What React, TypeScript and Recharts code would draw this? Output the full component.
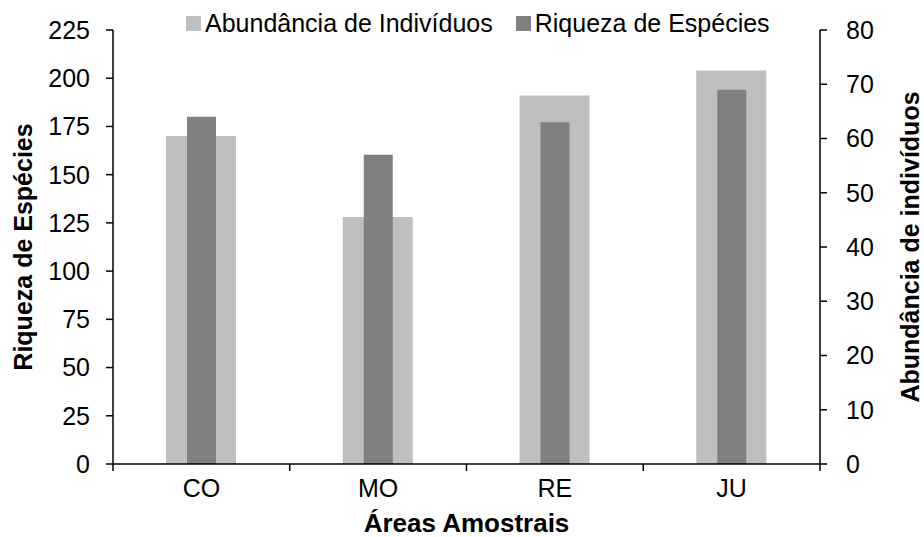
import { BarChart, Bar, XAxis, YAxis, Legend, Text } from 'recharts';

const categories = ['CO', 'MO', 'RE', 'JU'];
const abundancia = [170, 128, 191, 204];
const riqueza = [64, 57, 63, 69];
const leftTicks = [0, 25, 50, 75, 100, 125, 150, 175, 200, 225];
const rightTicks = [0, 10, 20, 30, 40, 50, 60, 70, 80];

const data = categories.map((area, i) => ({
  area,
  abundancia: abundancia[i],
  riqueza: riqueza[i],
}));

const LIGHT = '#bfbfbf';
const DARK = '#808080';
const INK = '#000000';
const FONT = 'Arial, "Liberation Sans", sans-serif';

const TICK_SIZE = 7;
const X_TICK_MARGIN = 8;
const PLOT_WIDTH = 707;
const HALF_BAND = PLOT_WIDTH / categories.length / 2;

function AreaTick(props: any) {
  const { x, y, payload, index } = props;
  const axisY = y - TICK_SIZE - X_TICK_MARGIN;
  return (
    <g>
      <line x1={x - HALF_BAND} x2={x - HALF_BAND} y1={axisY} y2={axisY + TICK_SIZE} stroke={INK} strokeWidth={1.5} />
      {index === categories.length - 1 && (
        <line x1={x + HALF_BAND} x2={x + HALF_BAND} y1={axisY} y2={axisY + TICK_SIZE} stroke={INK} strokeWidth={1.5} />
      )}
      <Text x={x} y={y} textAnchor="middle" verticalAnchor="start" fill={INK} fontSize={25} fontFamily={FONT}>
        {payload.value}
      </Text>
    </g>
  );
}

function LegendContent(props: any) {
  const { payload = [] } = props;
  return (
    <div style={{ display: 'flex', paddingLeft: 186, fontFamily: FONT, fontSize: 25, color: INK }}>
      {payload.map((item: any) => (
        <div key={item.value} style={{ display: 'flex', alignItems: 'center', marginRight: 23 }}>
          <span style={{ width: 15, height: 15, background: item.color, marginRight: 4, display: 'inline-block' }} />
          <span>{item.value}</span>
        </div>
      ))}
    </div>
  );
}

export default function App() {
  return (
    <div style={{ position: 'absolute', left: 0, top: 0, background: '#fff' }}>
      <BarChart
        width={924}
        height={537}
        data={data}
        margin={{ top: 30, right: 9, bottom: 0, left: 18 }}
        style={{ fontFamily: FONT }}
      >
        <XAxis
          xAxisId="light"
          dataKey="area"
          tick={<AreaTick />}
          tickLine={false}
          tickSize={TICK_SIZE}
          tickMargin={X_TICK_MARGIN}
          axisLine={{ stroke: INK, strokeWidth: 1.5 }}
          height={73}
          label={{
            value: 'Áreas Amostrais',
            position: 'insideBottom',
            offset: 5,
            fill: INK,
            fontSize: 26,
            fontWeight: 'bold',
          }}
        />
        <XAxis xAxisId="dark" dataKey="area" orientation="top" height={0} hide />
        <YAxis
          yAxisId="left"
          orientation="left"
          domain={[0, 225]}
          ticks={leftTicks}
          interval={0}
          width={95}
          tickSize={TICK_SIZE}
          tickMargin={16}
          axisLine={{ stroke: INK, strokeWidth: 1.5 }}
          tickLine={{ stroke: INK, strokeWidth: 1.5 }}
          tick={{ fill: INK, fontSize: 25 }}
          label={{
            value: 'Riqueza de Espécies',
            angle: -90,
            position: 'insideLeft',
            offset: 5,
            fill: INK,
            fontSize: 25,
            fontWeight: 'bold',
            style: { textAnchor: 'middle' },
          }}
        />
        <YAxis
          yAxisId="right"
          orientation="right"
          domain={[0, 80]}
          ticks={rightTicks}
          interval={0}
          width={95}
          tickSize={TICK_SIZE}
          tickMargin={19}
          axisLine={{ stroke: INK, strokeWidth: 1.5 }}
          tickLine={{ stroke: INK, strokeWidth: 1.5 }}
          tick={{ fill: INK, fontSize: 25 }}
          label={{
            value: 'Abundância de indivíduos',
            angle: -90,
            position: 'insideRight',
            offset: 5,
            fill: INK,
            fontSize: 25,
            fontWeight: 'bold',
            style: { textAnchor: 'middle' },
          }}
        />
        <Legend
          verticalAlign="middle"
          align="center"
          layout="horizontal"
          content={<LegendContent />}
          wrapperStyle={{ position: 'absolute', left: 0, top: 9, width: 924, height: 29 }}
        />
        <Bar
          xAxisId="light"
          yAxisId="left"
          dataKey="abundancia"
          name="Abundância de Indivíduos"
          fill={LIGHT}
          barSize={70}
          isAnimationActive={false}
        />
        <Bar
          xAxisId="dark"
          yAxisId="right"
          dataKey="riqueza"
          name="Riqueza de Espécies"
          fill={DARK}
          barSize={29}
          isAnimationActive={false}
        />
      </BarChart>
    </div>
  );
}
